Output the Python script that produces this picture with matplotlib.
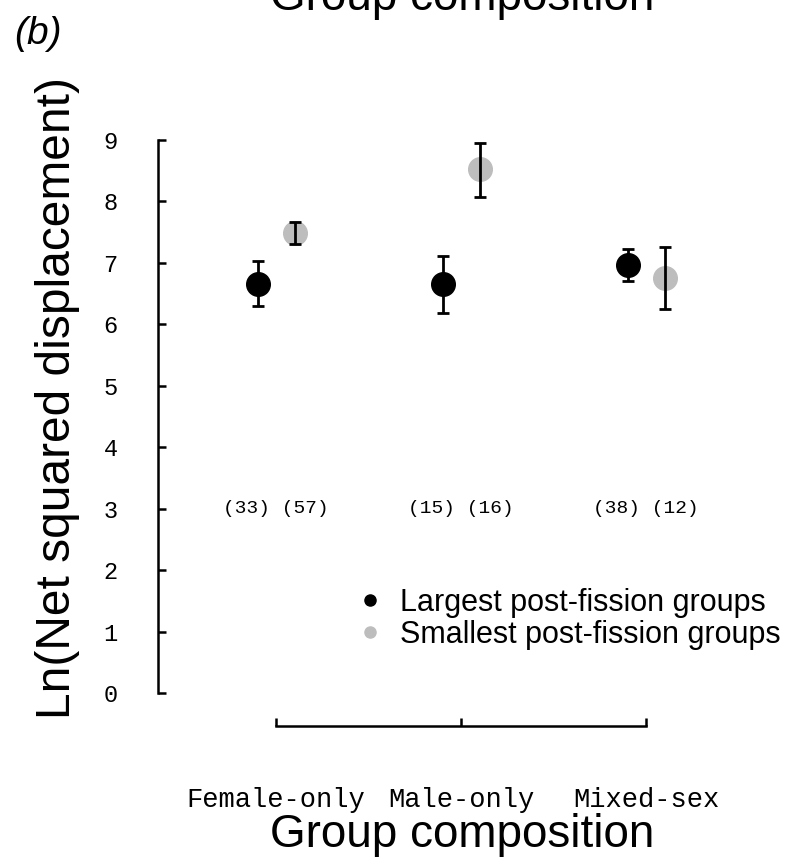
import matplotlib as mpl
import matplotlib.pyplot as plt
from matplotlib.lines import Line2D
mpl.use('Agg')

# data
categories = ['Female-only', 'Male-only', 'Mixed-sex']
largest_mean = [6.66, 6.66, 6.97]
largest_lo = [6.30, 6.19, 6.71]
largest_hi = [7.03, 7.12, 7.23]
smallest_mean = [7.49, 8.53, 6.76]
smallest_lo = [7.31, 8.08, 6.25]
smallest_hi = [7.67, 8.95, 7.26]
n_largest = [33, 15, 38]
n_smallest = [57, 16, 12]
yticks = [0, 1, 2, 3, 4, 5, 6, 7, 8, 9]

GRAY = '#bdbdbd'
SANS = 'Liberation Sans'
MONO = 'Liberation Mono'


def main():
    plt.rcParams['font.family'] = SANS
    W, H = 794, 863
    fig = plt.figure(figsize=(W / 100, H / 100), dpi=100)
    # axes box in pixels: left spine at x=158, bottom spine at y=726, top at y=140
    ax = fig.add_axes([158 / W, (H - 726) / H, (W - 158) / W, (726 - 140) / H])

    xpos = [1, 2, 3]
    off = 0.1
    xl = [x - off for x in xpos]
    xs = [x + off for x in xpos]

    ax.plot(xl, largest_mean, 'o', color='black', markersize=17, zorder=2, clip_on=False)
    ax.plot(xs, smallest_mean, 'o', color=GRAY, markersize=17, zorder=2, clip_on=False)
    err_l = [[m - lo for m, lo in zip(largest_mean, largest_lo)],
             [hi - m for m, hi in zip(largest_mean, largest_hi)]]
    err_s = [[m - lo for m, lo in zip(smallest_mean, smallest_lo)],
             [hi - m for m, hi in zip(smallest_mean, smallest_hi)]]
    ax.errorbar(xl, largest_mean, yerr=err_l, fmt='none', ecolor='black',
                elinewidth=2.0, capsize=4.5, capthick=2.0, zorder=3, clip_on=False)
    ax.errorbar(xs, smallest_mean, yerr=err_s, fmt='none', ecolor='black',
                elinewidth=2.0, capsize=4.5, capthick=2.0, zorder=3, clip_on=False)

    # sample sizes
    for x, a, b in zip(xpos, n_largest, n_smallest):
        ax.text(x, 3, '(%d) (%d)' % (a, b), ha='center', va='center',
                fontsize=14, family=MONO)

    ax.set_xlim(1 - (276 - 158) / 185, 1 + (W - 276) / 185)
    ax.set_ylim(-(726 - 693) / 61.44, 9)

    for s in ['top', 'right']:
        ax.spines[s].set_visible(False)
    ax.spines['left'].set_bounds(0, 9)
    ax.spines['bottom'].set_bounds(1, 3)
    ax.spines['left'].set_linewidth(1.8)
    ax.spines['bottom'].set_linewidth(1.8)

    ax.set_yticks(yticks)
    ax.set_yticklabels([str(t) for t in yticks], family=MONO, fontsize=17)
    ax.set_xticks(xpos)
    ax.set_xticklabels(categories, family=MONO, fontsize=19.5)
    ax.tick_params(axis='both', direction='in', length=6, width=1.8)
    ax.tick_params(axis='y', pad=29)
    ax.tick_params(axis='x', pad=44)
    # first label sits a little right of its tick in the original
    ax.get_xticklabels()[0].set_x(1.05)

    handles = [Line2D([], [], marker='o', linestyle='none', color='black', markersize=8),
               Line2D([], [], marker='o', linestyle='none', color=GRAY, markersize=8)]
    labels = ['Largest post-fission groups', 'Smallest post-fission groups']
    fs = 22
    em = fs * 100 / 72
    fig.legend(handles, labels, loc='upper left',
               bbox_to_anchor=((370 - 0.5 * em) / W, (H - 588) / H),
               frameon=False, fontsize=fs, borderpad=0, borderaxespad=0,
               handlelength=1.0, handletextpad=(30 - 0.5 * em) / em,
               labelspacing=0.05)

    # labels outside the axes
    fig.text(462 / W, 1 - 847 / H, 'Group composition', ha='center', va='baseline', fontsize=33)
    fig.text(462 / W, 1 - 10 / H, 'Group composition', ha='center', va='baseline', fontsize=33)
    fig.text(58 / W, 1 - 398 / H, 'Ln(Net squared displacement)', rotation=90,
             ha='center', va='center', fontsize=34.5)
    fig.text(14 / W, 1 - 44 / H, '(b)', ha='left', va='baseline', fontsize=28, style='italic')

    fig.savefig('out.png', dpi=100)


if __name__ == "__main__":
    main()
